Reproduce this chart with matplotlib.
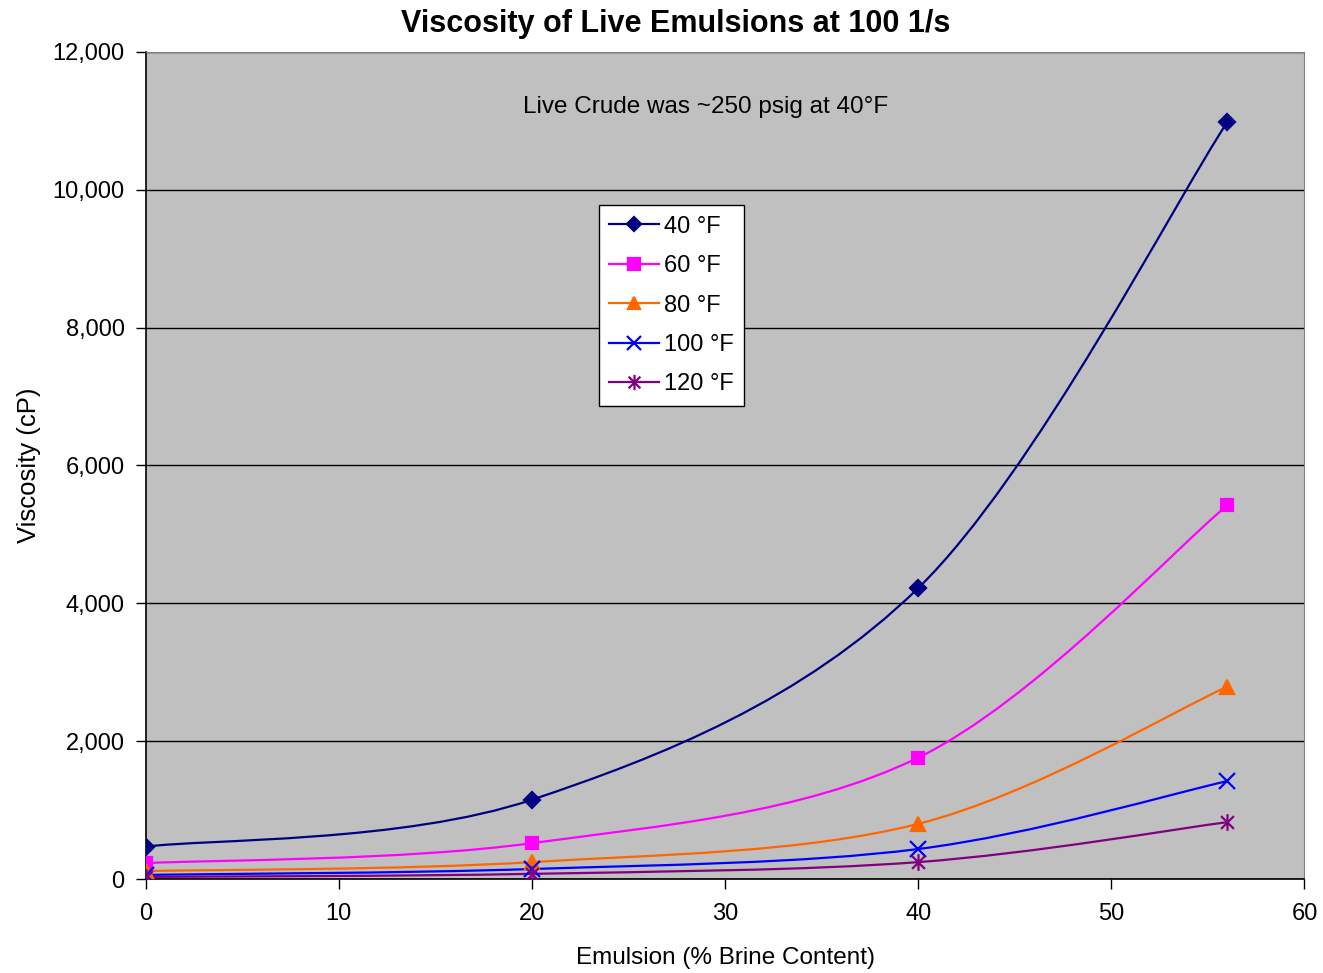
import numpy as np
import matplotlib.pyplot as plt
from matplotlib.path import Path
from matplotlib.patches import PathPatch
from matplotlib.lines import Line2D
from matplotlib.ticker import FuncFormatter

plt.rcParams['font.family'] = ['Liberation Sans', 'DejaVu Sans']

# data
brine = [0, 20, 40, 56]
visc_40 = [470, 1150, 4220, 10980]
visc_60 = [230, 520, 1760, 5420]
visc_80 = [115, 245, 800, 2790]
visc_100 = [60, 145, 435, 1420]
visc_120 = [30, 75, 245, 825]
labels = ['40 °F', '60 °F', '80 °F', '100 °F', '120 °F']

# excel style asterisk: x plus vertical bar
star = Path([(-1, -1), (1, 1), (-1, 1), (1, -1), (0, -1.3), (0, 1.3)],
            [Path.MOVETO, Path.LINETO] * 3)


def smooth_path(x, y):
    # excel-like smoothed line: bezier segments, catmull-rom control points
    p = np.column_stack([x, y]).astype(float)
    n = len(p)
    verts = [p[0]]
    codes = [Path.MOVETO]
    for i in range(n - 1):
        prev = p[i - 1] if i > 0 else p[i]
        nxt = p[i + 2] if i + 2 < n else p[i + 1]
        c1 = p[i] + (p[i + 1] - prev) / 6
        c2 = p[i + 1] - (nxt - p[i]) / 6
        verts += [c1, c2, p[i + 1]]
        codes += [Path.CURVE4] * 3
    return Path(verts, codes)


fig = plt.figure(figsize=(13.23, 9.73), dpi=100)
ax = fig.add_axes([0.110, 0.0966, 0.876, 0.85])
ax.set_facecolor('#C0C0C0')

series = [
    (visc_40, '#000080', 'D', 8, 7),
    (visc_60, '#FF00FF', 's', 9, 8),
    (visc_80, '#FF6600', '^', 10, 9),
    (visc_100, '#0000FF', 'x', 12, 10),
    (visc_120, '#800080', star, 12, 11),
]

handles = []
for (vals, col, mk, ms, lms), lab in zip(series, labels):
    ax.add_patch(PathPatch(smooth_path(brine, vals), fill=False, edgecolor=col,
                           lw=1.6, zorder=3))
    ax.plot(brine, vals, linestyle='none', marker=mk, markersize=ms,
            color=col, markeredgewidth=1.6, zorder=4)
    handles.append(Line2D([], [], color=col, lw=1.6, marker=mk,
                          markersize=lms, markeredgewidth=1.6, label=lab))

ax.set_xlim(0, 60)
ax.set_ylim(0, 12000)
ax.set_xticks(range(0, 61, 10))
ax.set_yticks(range(0, 12001, 2000))
ax.yaxis.set_major_formatter(FuncFormatter(lambda v, p: f'{int(v):,}'))
ax.tick_params(labelsize=17, length=7, width=1, direction='out', colors='black')
ax.tick_params(axis='x', pad=10)
ax.tick_params(axis='y', pad=8)
ax.grid(axis='y', color='black', lw=1)
ax.set_axisbelow(True)
for s in ['top', 'right']:
    ax.spines[s].set_color('#808080')
for s in ['left', 'bottom']:
    ax.spines[s].set_color('black')
    ax.spines[s].set_linewidth(1.2)

fig.text(0.511, 0.975, 'Viscosity of Live Emulsions at 100 1/s', fontsize=22,
         fontweight='bold', ha='center', va='center')
ax.set_xlabel('Emulsion (% Brine Content)', fontsize=17.5, labelpad=16)
ax.set_ylabel('Viscosity (cP)', fontsize=18.5, labelpad=8)

ax.text(0.4836, 0.933, 'Live Crude was ~250 psig at 40°F', transform=ax.transAxes,
        ha='center', va='center', fontsize=17.5)

leg = ax.legend(handles=handles, loc='upper left', bbox_to_anchor=(0.391, 0.815),
                fontsize=17, frameon=True, fancybox=False, framealpha=1,
                edgecolor='black', borderpad=0.45, labelspacing=0.74,
                handlelength=2.1, handletextpad=0.2, borderaxespad=0)
leg.get_frame().set_linewidth(1)

fig.savefig('out.png', dpi=100, facecolor='white')
